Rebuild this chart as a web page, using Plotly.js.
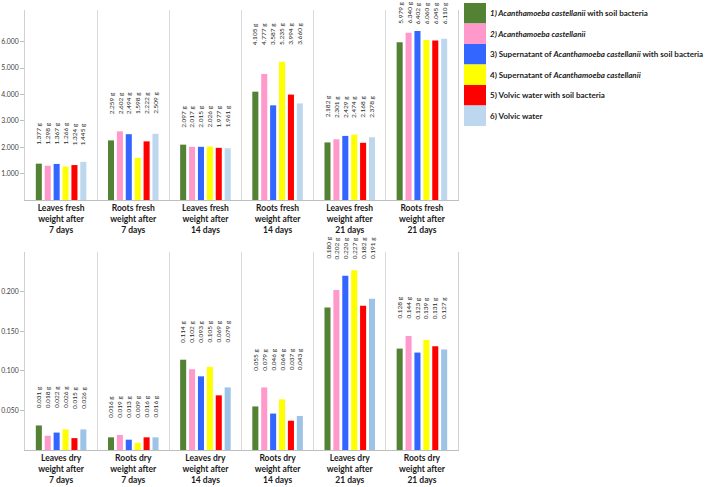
<!DOCTYPE html>
<html>
<head>
<meta charset="utf-8">
<script src="https://cdn.plot.ly/plotly-3.0.1.min.js"></script>
<style>
  html, body { margin: 0; padding: 0; background: #fff; }
  #chart { width: 708px; height: 487px; }
</style>
</head>
<body>
<div id="chart"></div>
<script>
// Treatments (one bar series each)
const seriesNames = [
  "<i>1) Acanthamoeba castellanii</i> with soil bacteria",
  "<i>2) Acanthamoeba castellanii</i>",
  "3) Supernatant of <i>Acanthamoeba castellanii</i> with soil bacteria",
  "4) Supernatant of <i>Acanthamoeba castellanii</i>",
  "5) Volvic water with soil bacteria",
  "6) Volvic water"
];
const seriesColors = ["#548235", "#ff99cc", "#3366ff", "#ffff00", "#ff0000", "#bdd7ee"];
const dryColors = ["#548235", "#ff99cc", "#3366ff", "#ffff00", "#ff0000", "#9dc3e6"];

// Fresh weight measurements (g)
const freshCategories = [
  "Leaves fresh<br>weight after<br>7 days",
  "Roots fresh<br>weight after<br>7 days",
  "Leaves fresh<br>weight after<br>14 days",
  "Roots fresh<br>weight after<br>14 days",
  "Leaves fresh<br>weight after<br>21 days",
  "Roots fresh<br>weight after<br>21 days"
];
const fresh1 = [1.377, 2.259, 2.097, 4.105, 2.182, 5.979];
const fresh2 = [1.298, 2.602, 2.017, 4.777, 2.301, 6.340];
const fresh3 = [1.367, 2.494, 2.015, 3.587, 2.429, 6.402];
const fresh4 = [1.266, 1.598, 2.026, 5.235, 2.474, 6.060];
const fresh5 = [1.324, 2.222, 1.977, 3.994, 2.168, 6.045];
const fresh6 = [1.445, 2.509, 1.961, 3.660, 2.378, 6.110];

// Dry weight measurements (g)
const dryCategories = [
  "Leaves dry<br>weight after<br>7 days",
  "Roots dry<br>weight after<br>7 days",
  "Leaves dry<br>weight after<br>14 days",
  "Roots dry<br>weight after<br>14 days",
  "Leaves dry<br>weight after<br>21 days",
  "Roots dry<br>weight after<br>21 days"
];
const dry1 = [0.031, 0.016, 0.114, 0.055, 0.180, 0.128];
const dry2 = [0.018, 0.019, 0.102, 0.079, 0.202, 0.144];
const dry3 = [0.022, 0.013, 0.093, 0.046, 0.220, 0.123];
const dry4 = [0.026, 0.009, 0.105, 0.064, 0.227, 0.139];
const dry5 = [0.015, 0.016, 0.069, 0.037, 0.182, 0.131];
const dry6 = [0.026, 0.016, 0.079, 0.043, 0.191, 0.127];

// Y-axis ticks
const freshTicks = [1, 2, 3, 4, 5, 6];
const freshTickText = ["1.000", "2.000", "3.000", "4.000", "5.000", "6.000"];
const dryTicks = [0.05, 0.10, 0.15, 0.20];
const dryTickText = ["0.050", "0.100", "0.150", "0.200"];

const freshSeries = [fresh1, fresh2, fresh3, fresh4, fresh5, fresh6];
const drySeries = [dry1, dry2, dry3, dry4, dry5, dry6];

// ---- geometry of the figure ----
const W = 708, H = 487;
const M = { l: 25, r: 250, t: 10, b: 37 };
const plotW = W - M.l - M.r, plotH = H - M.t - M.b;
const pxToPaperX = px => (px - M.l) / plotW;
const pxToPaperY = py => (H - M.b - py) / plotH;

const FRESH_RANGE = [0, 7.2], DRY_RANGE = [0, 0.25];
const FRESH_PX = [10, 200], DRY_PX = [252, 450];   // top / bottom pixel of each panel

const BARGAP = 0.26, GROUPGAP = 0.32;
const FONT = "Lato, 'Open Sans', sans-serif";
const nS = seriesNames.length;

const traces = [];
freshSeries.forEach((vals, i) => traces.push({
  type: "bar", x: freshCategories, y: vals, name: seriesNames[i],
  marker: { color: seriesColors[i] }, xaxis: "x", yaxis: "y",
  hoverinfo: "skip", showlegend: false
}));
drySeries.forEach((vals, i) => traces.push({
  type: "bar", x: dryCategories, y: vals, name: seriesNames[i],
  marker: { color: dryColors[i] }, xaxis: "x2", yaxis: "y2",
  hoverinfo: "skip", showlegend: false
}));

// value labels: one vertical text per bar, sitting in a row above each group;
// the row is lowered where it would run past the free space above the panel
const annotations = [];
const LABEL_SHIFT = 15, LABEL_LEN = 25;
function addValueLabels(series, cats, xref, yref, range, pxSpan, topLimitPx) {
  const slot = (1 - BARGAP) / nS;
  const pxPerUnit = (pxSpan[1] - pxSpan[0]) / (range[1] - range[0]);
  const maxAnchor = range[1] - (topLimitPx + LABEL_SHIFT + LABEL_LEN - pxSpan[0]) / pxPerUnit;
  cats.forEach((c, ci) => {
    const groupMax = Math.max(...series.map(s => s[ci]));
    const anchor = Math.min(groupMax, maxAnchor);
    series.forEach((s, si) => {
      annotations.push({
        xref: xref, yref: yref,
        x: ci + (si - (nS - 1) / 2) * slot,
        y: anchor,
        text: s[ci].toFixed(3) + " g",
        textangle: -90,
        xanchor: "center", yanchor: "bottom",
        yshift: LABEL_SHIFT,
        showarrow: false,
        font: { family: FONT, size: 6.5, color: "#262626" }
      });
    });
  });
}
addValueLabels(freshSeries, freshCategories, "x", "y", FRESH_RANGE, FRESH_PX, 1);
addValueLabels(drySeries, dryCategories, "x2", "y2", DRY_RANGE, DRY_PX, 236);

// legend drawn as colour blocks with labels
const shapes = [];
const legTop = 3, legStep = 20.5;
seriesNames.forEach((name, i) => {
  const y0 = legTop + i * legStep, y1 = y0 + legStep;
  shapes.push({
    type: "rect", xref: "paper", yref: "paper",
    x0: pxToPaperX(464), x1: pxToPaperX(486),
    y0: pxToPaperY(y1), y1: pxToPaperY(y0),
    fillcolor: seriesColors[i], line: { width: 0 }
  });
  annotations.push({
    xref: "paper", yref: "paper",
    x: pxToPaperX(488), y: pxToPaperY((y0 + y1) / 2),
    xanchor: "left", yanchor: "middle",
    text: "<b>" + name + "</b>",
    showarrow: false,
    font: { family: FONT, size: 8, color: "#1a1a1a" }
  });
});

const xAxisCommon = {
  type: "category",
  tickson: "boundaries",
  ticks: "",
  showgrid: true, gridcolor: "#d9d9d9", gridwidth: 1,
  showline: true, linecolor: "#bfbfbf", linewidth: 1,
  tickfont: { family: FONT, size: 8.5, color: "#1a1a1a", weight: "bold" },
  fixedrange: true
};
const yAxisCommon = {
  showgrid: false, zeroline: false,
  showline: true, linecolor: "#d0d0d0", linewidth: 1, mirror: true,
  ticks: "outside", ticklen: 4, tickcolor: "#bfbfbf",
  tickfont: { family: FONT, size: 6.8, color: "#404040" },
  fixedrange: true
};

const layout = {
  width: W, height: H,
  margin: M,
  paper_bgcolor: "#ffffff", plot_bgcolor: "#ffffff",
  barmode: "group", bargap: BARGAP, bargroupgap: GROUPGAP,
  showlegend: false,
  font: { family: FONT },
  xaxis: Object.assign({}, xAxisCommon, { anchor: "y", domain: [0, 1] }),
  yaxis: Object.assign({}, yAxisCommon, {
    anchor: "x", domain: [pxToPaperY(FRESH_PX[1]), pxToPaperY(FRESH_PX[0])], range: FRESH_RANGE,
    tickvals: freshTicks, ticktext: freshTickText
  }),
  xaxis2: Object.assign({}, xAxisCommon, { anchor: "y2", domain: [0, 1] }),
  yaxis2: Object.assign({}, yAxisCommon, {
    anchor: "x2", domain: [pxToPaperY(DRY_PX[1]), pxToPaperY(DRY_PX[0])], range: DRY_RANGE,
    tickvals: dryTicks, ticktext: dryTickText
  }),
  annotations: annotations,
  shapes: shapes
};

Plotly.newPlot("chart", traces, layout, { displayModeBar: false, staticPlot: true });
</script>
</body>
</html>
